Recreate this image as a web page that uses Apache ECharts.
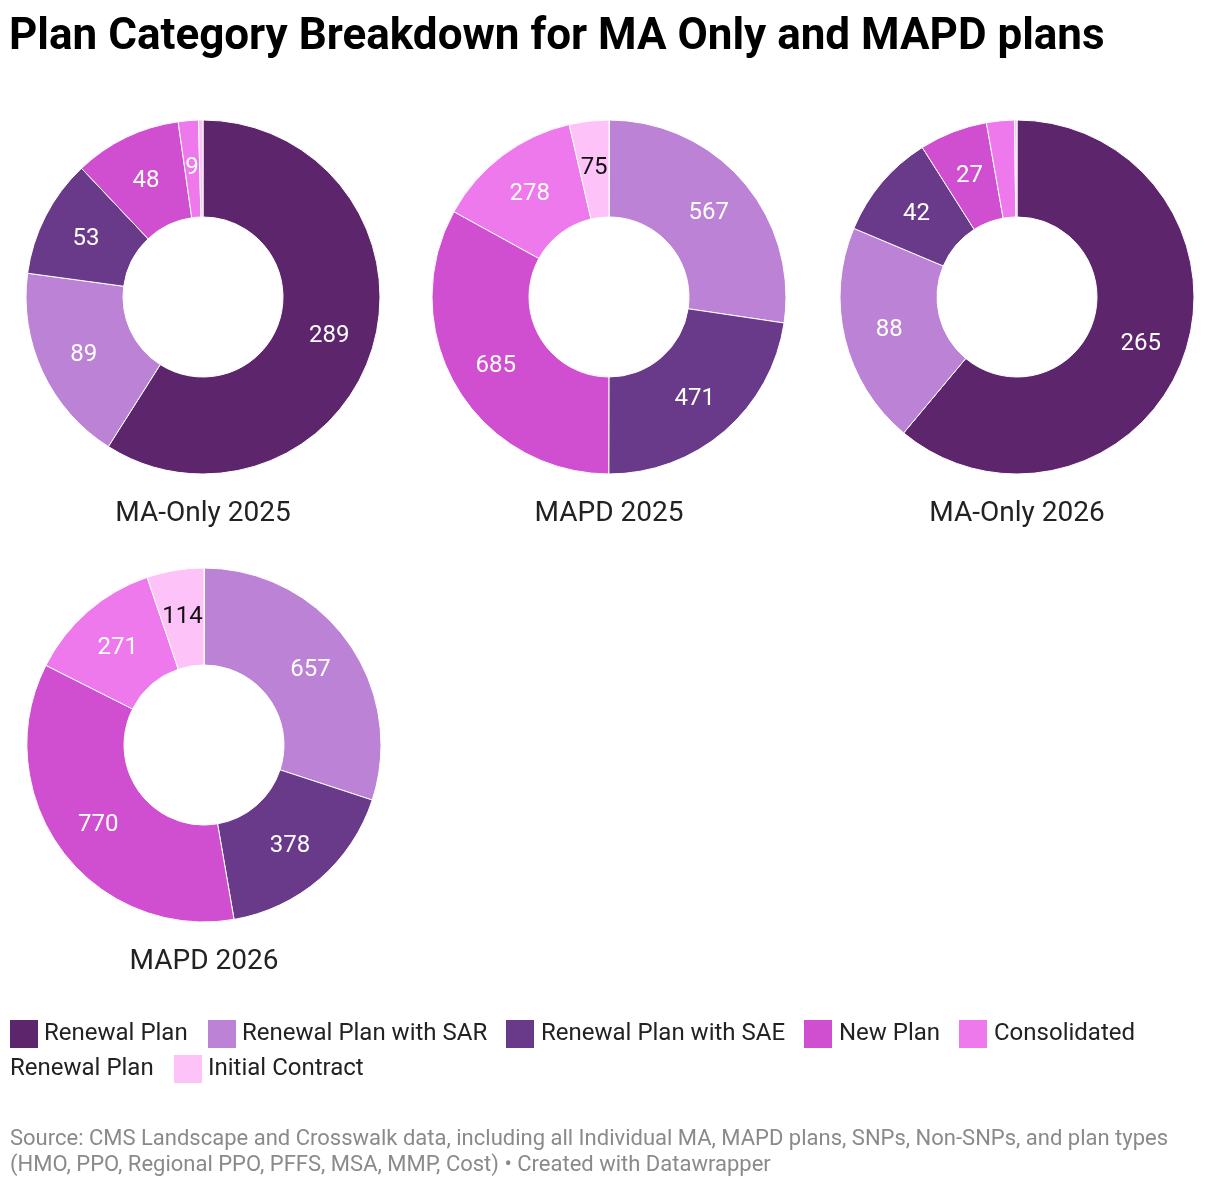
<!DOCTYPE html>
<html>
<head>
<meta charset="utf-8">
<script src="https://cdn.jsdelivr.net/npm/echarts@6/dist/echarts.min.js"></script>
<style>
html,body{margin:0;padding:0;background:#fff;}
#chart{width:1220px;height:1188px;}
</style>
</head>
<body>
<div id="chart"></div>
<script>
const categories = ['Renewal Plan','Renewal Plan with SAR','Renewal Plan with SAE','New Plan','Consolidated Renewal Plan','Initial Contract'];
const chartNames = ['MA-Only 2025','MAPD 2025','MA-Only 2026','MAPD 2026'];
const maOnly2025 = [289, 89, 53, 48, 9, 2];
const mapd2025   = [1, 567, 471, 685, 278, 75];
const maOnly2026 = [265, 88, 42, 27, 11, 1];
const mapd2026   = [1, 657, 378, 770, 271, 114];
const seriesValues = [maOnly2025, mapd2025, maOnly2026, mapd2026];

const colors = ['#5c256c','#bc82d6','#6a3a8a','#d04fd0','#ee79ec','#fdc2f7'];
const labelColors = ['#fff','#fff','#fff','#fff','#fff','#111'];
const centers = [[203,297],[609,297],[1017,297],[204,745]];
const R_IN = 80, R_OUT = 177, LABEL_FONT = 24;

const font = 'Roboto, "Noto Sans", sans-serif';

function fits(value, total){
  const arc = value/total * 2*Math.PI * ((R_IN+R_OUT)/2);
  const w = String(value).length * LABEL_FONT*0.5;
  return arc >= w;
}

const series = seriesValues.map((vals, si) => {
  const total = vals.reduce((a,b)=>a+b,0);
  return {
    type: 'pie',
    name: chartNames[si],
    center: centers[si],
    radius: [R_IN, R_OUT],
    startAngle: 90,
    clockwise: true,
    avoidLabelOverlap: false,
    silent: true,
    itemStyle: { borderColor: '#fff', borderWidth: 1 },
    label: { show: true, position: 'inside', fontFamily: font, fontSize: LABEL_FONT, offset: [0, 2] },
    labelLine: { show: false },
    data: vals.map((v, i) => ({
      name: categories[i],
      value: v,
      itemStyle: { color: colors[i] },
      label: { show: fits(v, total), color: labelColors[i], formatter: '{c}' }
    }))
  };
});

const titles = [
  { text: 'Plan Category Breakdown for MA Only and MAPD plans', left: 9, top: 16, padding: 0,
    textStyle: { fontFamily: font, fontSize: 44, fontWeight: 'bold', color: '#000' } }
];
chartNames.forEach((n, i) => {
  titles.push({ text: n, left: centers[i][0], top: centers[i][1] + 203, textAlign: 'center', padding: 0,
    textStyle: { fontFamily: font, fontSize: 28, fontWeight: 'normal', color: '#222' } });
});

// legend (wrapping like the reference)
const legendItems = [
  { sq: 10,  tx: 44,  y: 1034, text: 'Renewal Plan', c: 0 },
  { sq: 208, tx: 242, y: 1034, text: 'Renewal Plan with SAR', c: 1 },
  { sq: 506, tx: 541, y: 1034, text: 'Renewal Plan with SAE', c: 2 },
  { sq: 804, tx: 839, y: 1034, text: 'New Plan', c: 3 },
  { sq: 959, tx: 994, y: 1034, text: 'Consolidated', c: 4 },
  { sq: null, tx: 10, y: 1069, text: 'Renewal Plan', c: 4 },
  { sq: 174, tx: 208, y: 1069, text: 'Initial Contract', c: 5 }
];
const graphic = [];
legendItems.forEach(it => {
  if (it.sq !== null) {
    graphic.push({ type: 'rect', shape: { x: it.sq, y: it.y - 14, width: 28, height: 28 },
      style: { fill: colors[it.c] }, silent: true });
  }
  graphic.push({ type: 'text', x: it.tx, y: it.y, silent: true,
    style: { text: it.text, fill: '#222', font: '24px ' + font, verticalAlign: 'middle' } });
});
graphic.push({ type: 'text', x: 10, y: 1139, silent: true,
  style: { text: 'Source: CMS Landscape and Crosswalk data, including all Individual MA, MAPD plans, SNPs, Non-SNPs, and plan types',
    fill: '#8a8a8a', font: '22px ' + font, verticalAlign: 'middle' } });
graphic.push({ type: 'text', x: 10, y: 1165, silent: true,
  style: { text: '(HMO, PPO, Regional PPO, PFFS, MSA, MMP, Cost) \u2022 Created with Datawrapper',
    fill: '#8a8a8a', font: '22px ' + font, verticalAlign: 'middle' } });

const chart = echarts.init(document.getElementById('chart'));
chart.setOption({
  animation: false,
  backgroundColor: '#fff',
  title: titles,
  series: series,
  graphic: graphic
});
</script>
</body>
</html>
